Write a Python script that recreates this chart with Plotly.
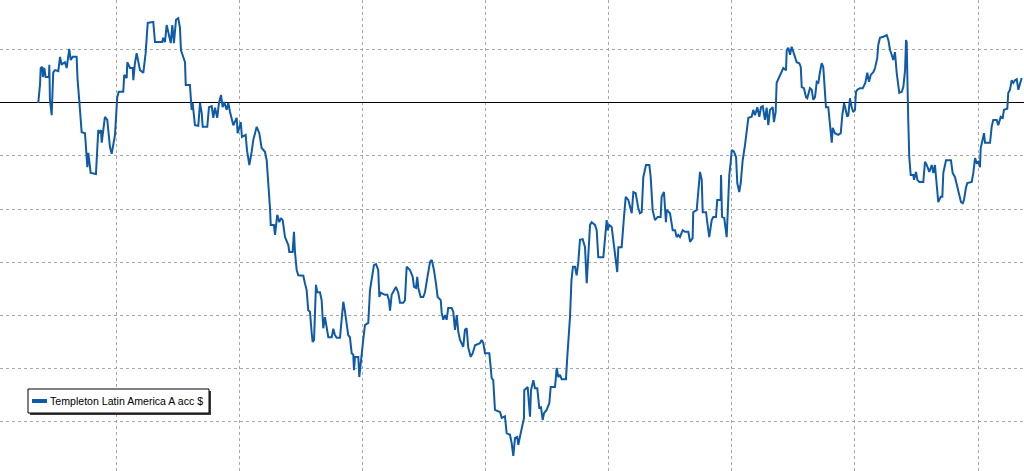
import plotly.graph_objects as go

# Cumulative performance (%) of the fund, x = decimal year
years = [
    2011.360, 2011.374, 2011.380, 2011.393, 2011.398, 2011.409, 2011.420, 2011.447, 2011.450, 2011.455,
    2011.469, 2011.474, 2011.482, 2011.496, 2011.523, 2011.537, 2011.550, 2011.563, 2011.577, 2011.591,
    2011.599, 2011.612, 2011.624, 2011.640, 2011.672, 2011.680, 2011.693, 2011.713, 2011.740, 2011.752,
    2011.759, 2011.767, 2011.786, 2011.829, 2011.835, 2011.848, 2011.862, 2011.870, 2011.876, 2011.902,
    2011.921, 2011.943, 2011.957, 2011.984, 2012.002, 2012.014, 2012.051, 2012.059, 2012.079, 2012.084,
    2012.106, 2012.128, 2012.133, 2012.146, 2012.160, 2012.173, 2012.187, 2012.214, 2012.233, 2012.250,
    2012.295, 2012.309, 2012.368, 2012.376, 2012.390, 2012.404, 2012.423, 2012.437, 2012.450, 2012.463,
    2012.480, 2012.498, 2012.512, 2012.520, 2012.553, 2012.559, 2012.593, 2012.607, 2012.615, 2012.634,
    2012.661, 2012.675, 2012.689, 2012.697, 2012.734, 2012.748, 2012.770, 2012.783, 2012.797, 2012.815,
    2012.829, 2012.846, 2012.859, 2012.872, 2012.892, 2012.905, 2012.919, 2012.933, 2012.946, 2012.973,
    2012.981, 2012.994, 2013.006, 2013.016, 2013.046, 2013.057, 2013.076, 2013.095, 2013.108, 2013.136,
    2013.157, 2013.176, 2013.203, 2013.217, 2013.230, 2013.244, 2013.250, 2013.276, 2013.285, 2013.303,
    2013.320, 2013.333, 2013.347, 2013.366, 2013.393, 2013.401, 2013.428, 2013.439, 2013.447, 2013.461,
    2013.474, 2013.515, 2013.528, 2013.542, 2013.555, 2013.569, 2013.583, 2013.591, 2013.602, 2013.610,
    2013.618, 2013.628, 2013.650, 2013.664, 2013.677, 2013.691, 2013.705, 2013.718, 2013.746, 2013.759,
    2013.772, 2013.786, 2013.813, 2013.827, 2013.840, 2013.854, 2013.867, 2013.880, 2013.894, 2013.908,
    2013.921, 2013.927, 2013.935, 2013.962, 2013.970, 2013.981, 2013.989, 2014.002, 2014.016, 2014.043,
    2014.057, 2014.071, 2014.089, 2014.106, 2014.124, 2014.133, 2014.144, 2014.179, 2014.198, 2014.211,
    2014.220, 2014.233, 2014.246, 2014.268, 2014.287, 2014.301, 2014.328, 2014.341, 2014.355, 2014.382,
    2014.404, 2014.415, 2014.431, 2014.441, 2014.450, 2014.469, 2014.490, 2014.504, 2014.523, 2014.545,
    2014.559, 2014.577, 2014.593, 2014.607, 2014.632, 2014.640, 2014.653, 2014.667, 2014.680, 2014.693,
    2014.721, 2014.734, 2014.748, 2014.762, 2014.775, 2014.789, 2014.815, 2014.829, 2014.843, 2014.856,
    2014.876, 2014.892, 2014.911, 2014.951, 2014.965, 2014.978, 2014.992, 2015.027, 2015.038, 2015.046,
    2015.059, 2015.073, 2015.114, 2015.128, 2015.154, 2015.168, 2015.195, 2015.209, 2015.222, 2015.236,
    2015.254, 2015.263, 2015.276, 2015.290, 2015.309, 2015.311, 2015.339, 2015.358, 2015.366, 2015.385,
    2015.398, 2015.417, 2015.433, 2015.447, 2015.461, 2015.472, 2015.493, 2015.515, 2015.526, 2015.561,
    2015.575, 2015.588, 2015.602, 2015.615, 2015.650, 2015.661, 2015.669, 2015.683, 2015.695, 2015.707,
    2015.724, 2015.737, 2015.750, 2015.764, 2015.786, 2015.805, 2015.819, 2015.832, 2015.846, 2015.859,
    2015.886, 2015.900, 2015.913, 2015.954, 2015.967, 2015.981, 2015.989, 2016.002, 2016.022, 2016.041,
    2016.057, 2016.067, 2016.076, 2016.103, 2016.122, 2016.136, 2016.157, 2016.185, 2016.198, 2016.217,
    2016.238, 2016.252, 2016.266, 2016.279, 2016.301, 2016.328, 2016.339, 2016.355, 2016.374, 2016.396,
    2016.420, 2016.428, 2016.447, 2016.463, 2016.469, 2016.496, 2016.518, 2016.537, 2016.550, 2016.563,
    2016.577, 2016.599, 2016.618, 2016.645, 2016.659, 2016.680, 2016.685, 2016.713, 2016.740, 2016.754,
    2016.762, 2016.789, 2016.799, 2016.815, 2016.835, 2016.848, 2016.870, 2016.880, 2016.908, 2016.911,
    2016.919, 2016.937, 2016.957, 2016.965, 2016.978, 2016.989, 2016.998, 2017.016, 2017.033, 2017.043,
    2017.059, 2017.071, 2017.087, 2017.106, 2017.120, 2017.133, 2017.160, 2017.173, 2017.187, 2017.206,
    2017.222, 2017.236, 2017.250, 2017.268, 2017.282, 2017.295, 2017.309, 2017.331, 2017.341, 2017.355,
    2017.363, 2017.382, 2017.404, 2017.417, 2017.439, 2017.445, 2017.458, 2017.472, 2017.485, 2017.504,
    2017.526, 2017.547, 2017.559, 2017.567, 2017.585, 2017.602, 2017.612, 2017.634, 2017.648, 2017.661,
    2017.675, 2017.689, 2017.702, 2017.715, 2017.729, 2017.742, 2017.756, 2017.764, 2017.783, 2017.797,
    2017.811, 2017.819, 2017.837, 2017.864, 2017.884, 2017.897, 2017.911, 2017.921, 2017.937, 2017.946,
    2017.959, 2017.973, 2017.986, 2018.000, 2018.008, 2018.019, 2018.041, 2018.063, 2018.084, 2018.100,
    2018.114, 2018.128, 2018.149, 2018.163, 2018.181, 2018.189, 2018.203, 2018.230, 2018.258, 2018.271,
    2018.285, 2018.298, 2018.311, 2018.325, 2018.339, 2018.360, 2018.380, 2018.393, 2018.407, 2018.415,
    2018.420, 2018.433, 2018.441, 2018.453, 2018.474, 2018.480, 2018.496, 2018.507, 2018.523, 2018.555,
    2018.569, 2018.583, 2018.604, 2018.624, 2018.637, 2018.650, 2018.664, 2018.677, 2018.697, 2018.710,
    2018.718, 2018.740, 2018.780, 2018.794, 2018.813, 2018.832, 2018.846, 2018.862, 2018.876, 2018.886,
    2018.902, 2018.913, 2018.949, 2018.962, 2018.976, 2018.989, 2019.002, 2019.016, 2019.022, 2019.030,
    2019.049, 2019.057, 2019.098, 2019.111, 2019.124, 2019.152, 2019.165, 2019.185, 2019.201, 2019.211,
    2019.238, 2019.246, 2019.260, 2019.274, 2019.287, 2019.301, 2019.315, 2019.328, 2019.341, 2019.355,
]

returns_pct = [
    0.0, 3.4, 6.6, 6.8, 4.9, 6.6, 4.9, 4.9, 7.2, 0.6,
    -2.3, 3.0, 5.8, 6.2, 6.0, 8.7, 7.2, 7.5, 7.7, 6.6,
    8.5, 10.2, 8.1, 8.7, 8.7, 4.3, 0.6, -5.5, -5.7, -8.9,
    -12.1, -9.4, -13.2, -13.4, -10.8, -5.1, -5.7, -5.1, -7.5, -2.6,
    -3.2, -8.3, -9.6, -6.0, 1.1, 2.1, 2.1, 5.3, 4.7, 7.7,
    6.6, 6.6, 4.3, 7.5, 9.4, 7.5, 6.2, 5.7, 9.4, 15.1,
    15.3, 11.5, 11.5, 12.3, 11.5, 14.7, 12.8, 11.3, 14.7, 11.3,
    15.7, 16.0, 14.2, 10.0, 7.7, 3.4, 3.4, -1.3, 0.0, -4.2,
    -4.3, 0.0, -1.9, -4.5, -4.5, -0.8, -0.6, -2.8, -0.9, -2.8,
    0.0, 1.5, -0.8, 0.2, -1.3, 0.0, -1.7, -2.8, -4.2, -2.8,
    -5.7, -4.7, -3.6, -6.4, -6.0, -8.9, -11.7, -9.2, -7.0, -4.5,
    -5.7, -8.5, -9.2, -10.8, -14.5, -19.8, -23.0, -23.0, -24.9, -21.1,
    -22.5, -21.7, -22.1, -25.3, -26.8, -28.1, -28.1, -24.3, -28.1, -31.5,
    -32.5, -32.6, -34.0, -35.3, -39.1, -39.4, -43.4, -45.1, -44.7, -40.4,
    -34.3, -35.7, -35.7, -37.2, -42.5, -40.4, -42.5, -44.2, -44.2, -42.6,
    -43.8, -44.3, -44.3, -41.3, -37.5, -39.4, -41.9, -43.8, -44.2, -47.2,
    -47.5, -50.4, -47.9, -47.9, -51.7, -49.1, -46.6, -44.7, -41.9, -41.5,
    -35.3, -32.8, -30.6, -30.4, -31.5, -36.6, -35.8, -36.2, -36.2, -37.2,
    -39.2, -36.2, -35.7, -34.7, -35.8, -37.7, -37.7, -37.2, -30.9, -31.5,
    -32.8, -34.7, -34.9, -32.8, -34.9, -36.6, -36.6, -35.7, -33.0, -30.0,
    -29.6, -31.5, -34.0, -36.6, -37.2, -39.6, -40.9, -40.0, -40.9, -38.7,
    -38.7, -39.4, -42.8, -40.0, -43.2, -44.7, -46.0, -42.8, -42.5, -46.2,
    -47.9, -47.2, -45.7, -45.3, -44.7, -45.3, -47.2, -47.2, -49.8, -51.9,
    -52.3, -57.9, -58.3, -59.4, -59.1, -62.3, -62.6, -64.2, -66.6, -63.2,
    -63.0, -64.5, -63.0, -61.7, -59.4, -54.2, -53.6, -59.2, -54.2, -52.3,
    -53.8, -53.8, -57.5, -57.4, -59.8, -58.5, -57.9, -56.6, -53.6, -53.6,
    -50.0, -51.7, -51.3, -52.1, -52.1, -47.9, -45.3, -40.4, -33.4, -30.9,
    -30.9, -32.5, -30.2, -25.8, -25.7, -27.2, -34.0, -28.3, -23.0, -22.5,
    -23.0, -24.0, -29.1, -29.1, -25.3, -22.1, -24.0, -23.0, -23.4, -27.2,
    -30.0, -31.9, -27.2, -27.2, -21.5, -17.7, -18.3, -20.8, -16.8, -17.0,
    -19.8, -20.8, -20.6, -14.0, -11.7, -11.7, -14.0, -20.2, -22.1, -21.5,
    -21.5, -17.7, -16.8, -22.5, -20.2, -20.8, -24.0, -24.0, -25.3, -24.9,
    -25.3, -24.0, -24.3, -24.3, -26.2, -25.5, -20.6, -20.2, -13.0, -14.5,
    -20.6, -20.6, -22.5, -25.3, -22.1, -21.5, -21.5, -18.3, -18.3, -13.6,
    -21.5, -21.7, -25.3, -20.2, -13.6, -11.3, -8.9, -9.2, -10.2, -15.1,
    -16.8, -15.1, -10.8, -7.9, -5.7, -2.8, -2.6, -1.3, -2.3, -0.8,
    -2.6, -0.8, -0.6, -3.2, -0.9, -4.2, -1.3, -0.8, -3.6, -1.7,
    3.8, 4.7, 5.8, 6.6, 6.2, 10.0, 10.4, 9.1, 10.6, 9.1,
    7.7, 7.5, 6.8, 3.0, 2.8, 1.1, 0.9, 2.8, 2.5, 0.6,
    1.1, 4.0, 3.8, 5.8, 7.5, 6.8, 2.5, -0.8, -0.8, -4.7,
    -7.5, -4.7, -5.7, -6.0, -5.7, -2.3, 0.0, -0.9, -2.6, -2.3,
    0.9, -0.8, -1.7, -1.3, 2.1, 2.5, 2.8, 2.8, 3.8, 5.7,
    4.0, 5.3, 5.8, 6.6, 8.5, 10.9, 12.3, 12.5, 12.8, 11.9,
    10.0, 9.1, 8.1, 9.6, 5.7, 1.9, 2.1, 3.0, 6.2, 11.9,
    11.5, -3.2, -10.2, -13.6, -13.6, -14.5, -13.0, -14.5, -14.9, -14.9,
    -11.1, -11.7, -13.0, -11.7, -13.2, -11.7, -15.1, -18.7, -17.7, -17.7,
    -13.2, -10.8, -10.8, -13.2, -14.0, -15.8, -17.7, -18.7, -18.9, -18.3,
    -16.0, -15.1, -14.9, -13.2, -10.4, -11.3, -11.1, -12.1, -8.5, -7.5,
    -5.7, -7.5, -7.5, -4.5, -3.2, -3.2, -4.2, -2.6, -2.8, -1.3,
    -1.1, 1.9, 2.5, 4.3, 3.8, 4.3, 4.5, 2.5, 3.8, 4.7,
]

series_name = "Templeton Latin America A acc $"
line_color = "#0f5ba7"

fig = go.Figure()
fig.add_trace(go.Scatter(
    x=years, y=returns_pct, mode="lines", name=series_name,
    line=dict(color=line_color, width=2), showlegend=False,
))

grid = dict(showgrid=True, gridcolor="#a8a8a8", gridwidth=1, griddash="3px,3px",
            showticklabels=False, ticks="", showline=False)

fig.update_xaxes(range=[2011.049, 2019.374], dtick=1, tick0=2012, zeroline=False, **grid)
fig.update_yaxes(range=[-69.43, 19.43], dtick=10, tick0=0, zeroline=True,
                 zerolinecolor="#000000", zerolinewidth=1, **grid)

W, H = 1024, 471


def px_x(p):
    return p / W


def px_y(p):
    return 1 - p / H


# legend box: shadow, frame, key line and label
fig.add_shape(type="rect", xref="paper", yref="paper",
              x0=px_x(30), x1=px_x(211), y0=px_y(415), y1=px_y(391),
              fillcolor="#3a3a3a", line=dict(width=0), layer="above")
fig.add_shape(type="rect", xref="paper", yref="paper",
              x0=px_x(28), x1=px_x(209), y0=px_y(413), y1=px_y(389),
              fillcolor="white", line=dict(color="#000000", width=1), layer="above")
fig.add_shape(type="line", xref="paper", yref="paper",
              x0=px_x(32), x1=px_x(47), y0=px_y(401), y1=px_y(401),
              line=dict(color=line_color, width=4), layer="above")
fig.add_annotation(text=series_name, xref="paper", yref="paper",
                   x=px_x(48), y=px_y(401), xanchor="left", yanchor="middle",
                   showarrow=False,
                   font=dict(family="Liberation Sans, Arial, sans-serif", size=10.6, color="#000000"))

fig.update_layout(
    width=W, height=H,
    margin=dict(l=0, r=0, t=0, b=0),
    paper_bgcolor="white", plot_bgcolor="white",
    showlegend=False,
)

fig.write_html("out.html", config={"displayModeBar": False},
               post_script="document.body.style.margin='0px';document.body.style.overflow='hidden';")
